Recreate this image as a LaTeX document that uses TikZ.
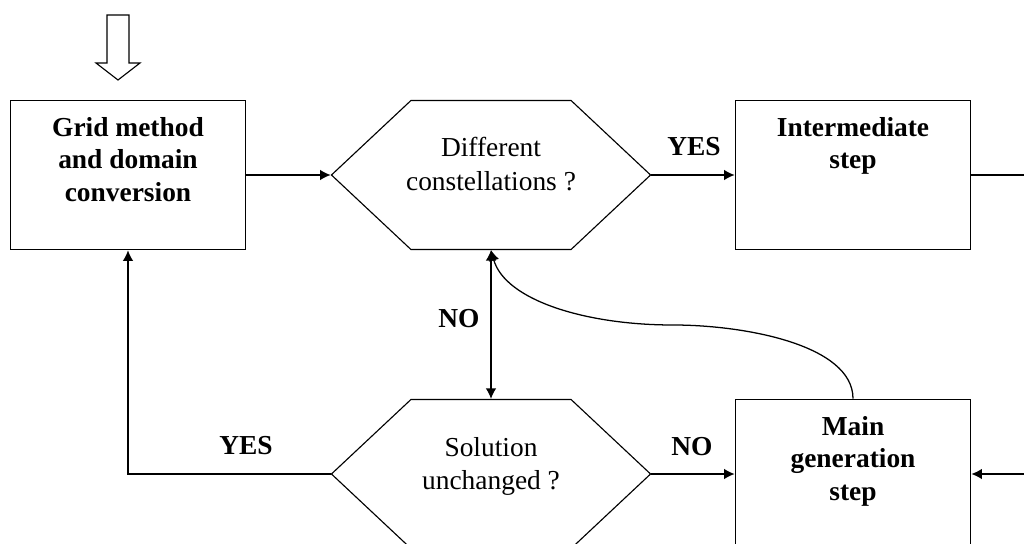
\documentclass[tikz,border=0pt]{standalone}
\usepackage{fontspec}
\setmainfont{Liberation Serif}
\usetikzlibrary{arrows.meta,shapes.symbols,calc}

\tikzset{
  box/.style={draw, line width=1.2pt, minimum width=5.875cm, minimum height=3.725cm, inner sep=0pt},
  boxtext/.style={anchor=north, align=center, inner sep=0pt, font=\fontsize{19.5}{23}\selectfont\bfseries},
  hexa/.style={draw, line width=0.8pt, shape=signal, signal from=nowhere, signal to=east and west,
    signal pointer angle=86.3, minimum width=7.975cm, minimum height=3.725cm, inner sep=0pt},
  hextext/.style={anchor=north, align=center, inner sep=0pt, font=\fontsize{19.5}{24}\selectfont},
  answer/.style={font=\fontsize{19.5}{23}\selectfont\bfseries, inner sep=0pt},
  link/.style={line width=0.9pt},
}

\begin{document}
\begin{tikzpicture}[>={Latex[length=7.5pt,width=7.5pt]}, x=0.025cm, y=-0.025cm]
  \useasboundingbox (0,0) rectangle (1024,544);
  \clip (0,0) rectangle (1024,544);
  % process boxes
  \node[box] (grid) at (128,175) {};
  \node[box] (inter) at (853,175) {};
  \node[box] (gen) at (853,474) {};
  \node[boxtext] (gridlbl) at ([yshift=-0.44cm]grid.north) {Grid method\\and domain\\conversion};
  \node[boxtext] (interlbl) at ([yshift=-0.44cm]inter.north) {Intermediate\\step};
  \node[boxtext] (genlbl) at ([yshift=-0.44cm]gen.north) {Main\\generation\\step};
  % decisions
  \node[hexa] (diff) at (491,175) {};
  \node[hexa] (sol) at (491,474) {};
  \node[hextext] (difflbl) at ([yshift=-0.93cm]diff.north) {Different\\constellations ?};
  \node[hextext] (sollbl) at ([yshift=-0.95cm]sol.north) {Solution\\unchanged ?};
  % entry arrow
  \draw[line width=0.8pt] (107,15) -- (129,15) -- (129,63) -- (140,63) -- (118,80)
    -- (96,63) -- (107,63) -- cycle;
  % connectors
  \coordinate (outB) at (1040,175);
  \coordinate (inC) at (1040,474);
  \coordinate (bend) at (673,325);
  \draw[link,->] (grid.east) -- (diff.west);
  \draw[link,->] (diff.east) -- (inter.west);
  \draw[link] (inter.east) -- (outB);
  \draw[link,->] (inC) -- (gen.east);
  \draw[link,->] (sol.east) -- (gen.west);
  \draw[link,->] (sol.west) -| (grid.south);
  \draw[link,<->] (diff.south) -- (sol.north);
  \draw[link,->] (gen.north) .. controls (853,345) and (745,325) .. (bend)
    .. controls (585,325) and (505,300) .. (diff.south);
  % answers
  \node[answer] (yesA) at (694,147) {YES};
  \node[answer] (noA) at (459,319) {NO};
  \node[answer] (noB) at (692,447) {NO};
  \node[answer] (yesB) at (246,446) {YES};
\end{tikzpicture}
\end{document}
